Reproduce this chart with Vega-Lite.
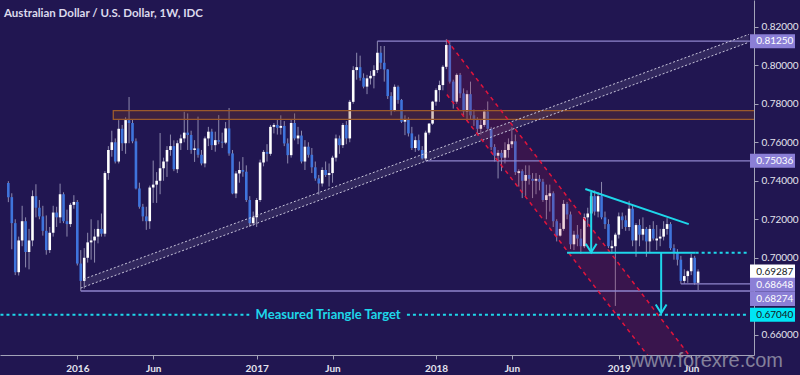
{
  "$schema": "https://vega.github.io/schema/vega-lite/v6.json",
  "width": 754,
  "height": 355,
  "autosize": {"type": "none"},
  "padding": {"left": 0, "top": 0, "right": 46, "bottom": 20},
  "background": "#211651",
  "title": {"text": "Australian Dollar / U.S. Dollar, 1W, IDC", "anchor": "start", "frame": "group", "orient": "top", "offset": -19, "dx": 4, "font": "Lato", "fontSize": 11.5, "fontWeight": "bold", "color": "#dcdaec"},
  "datasets": {
    "candles": [
      {"d":"2015-08-17","o":0.7388,"h":0.7398,"l":0.7289,"c":0.7315},
      {"d":"2015-08-24","o":0.7315,"h":0.7335,"l":0.7044,"c":0.7180},
      {"d":"2015-08-31","o":0.7180,"h":0.7200,"l":0.6910,"c":0.6925},
      {"d":"2015-09-07","o":0.6925,"h":0.7110,"l":0.6908,"c":0.7090},
      {"d":"2015-09-14","o":0.7090,"h":0.7270,"l":0.7060,"c":0.7190},
      {"d":"2015-09-21","o":0.7190,"h":0.7210,"l":0.6950,"c":0.7030},
      {"d":"2015-09-28","o":0.7030,"h":0.7150,"l":0.6940,"c":0.7090},
      {"d":"2015-10-05","o":0.7090,"h":0.7350,"l":0.7060,"c":0.7320},
      {"d":"2015-10-12","o":0.7320,"h":0.7382,"l":0.7210,"c":0.7260},
      {"d":"2015-10-19","o":0.7260,"h":0.7300,"l":0.7200,"c":0.7215},
      {"d":"2015-10-26","o":0.7215,"h":0.7270,"l":0.7115,"c":0.7140},
      {"d":"2015-11-02","o":0.7140,"h":0.7220,"l":0.7016,"c":0.7040},
      {"d":"2015-11-09","o":0.7040,"h":0.7160,"l":0.7025,"c":0.7130},
      {"d":"2015-11-16","o":0.7130,"h":0.7270,"l":0.7110,"c":0.7235},
      {"d":"2015-11-23","o":0.7235,"h":0.7265,"l":0.7160,"c":0.7210},
      {"d":"2015-11-30","o":0.7210,"h":0.7385,"l":0.7180,"c":0.7330},
      {"d":"2015-12-07","o":0.7330,"h":0.7340,"l":0.7180,"c":0.7190},
      {"d":"2015-12-14","o":0.7190,"h":0.7250,"l":0.7110,"c":0.7175},
      {"d":"2015-12-21","o":0.7175,"h":0.7285,"l":0.7160,"c":0.7275},
      {"d":"2015-12-28","o":0.7275,"h":0.7325,"l":0.7255,"c":0.7290},
      {"d":"2016-01-04","o":0.7290,"h":0.7300,"l":0.6960,"c":0.6970},
      {"d":"2016-01-11","o":0.6970,"h":0.7040,"l":0.6827,"c":0.6880},
      {"d":"2016-01-18","o":0.6880,"h":0.7050,"l":0.6840,"c":0.7000},
      {"d":"2016-01-25","o":0.7000,"h":0.7130,"l":0.6975,"c":0.7080},
      {"d":"2016-02-01","o":0.7080,"h":0.7200,"l":0.6990,"c":0.7090},
      {"d":"2016-02-08","o":0.7090,"h":0.7150,"l":0.6975,"c":0.7110},
      {"d":"2016-02-15","o":0.7110,"h":0.7195,"l":0.7075,"c":0.7150},
      {"d":"2016-02-22","o":0.7150,"h":0.7230,"l":0.7110,"c":0.7125},
      {"d":"2016-02-29","o":0.7125,"h":0.7450,"l":0.7110,"c":0.7440},
      {"d":"2016-03-07","o":0.7440,"h":0.7580,"l":0.7405,"c":0.7560},
      {"d":"2016-03-14","o":0.7560,"h":0.7660,"l":0.7525,"c":0.7600},
      {"d":"2016-03-21","o":0.7600,"h":0.7620,"l":0.7490,"c":0.7500},
      {"d":"2016-03-28","o":0.7500,"h":0.7715,"l":0.7490,"c":0.7670},
      {"d":"2016-04-04","o":0.7670,"h":0.7690,"l":0.7555,"c":0.7595},
      {"d":"2016-04-11","o":0.7595,"h":0.7730,"l":0.7540,"c":0.7715},
      {"d":"2016-04-18","o":0.7715,"h":0.7835,"l":0.7595,"c":0.7700},
      {"d":"2016-04-25","o":0.7700,"h":0.7720,"l":0.7595,"c":0.7605},
      {"d":"2016-05-02","o":0.7605,"h":0.7620,"l":0.7355,"c":0.7360},
      {"d":"2016-05-09","o":0.7360,"h":0.7390,"l":0.7255,"c":0.7265},
      {"d":"2016-05-16","o":0.7265,"h":0.7280,"l":0.7190,"c":0.7215},
      {"d":"2016-05-23","o":0.7215,"h":0.7265,"l":0.7145,"c":0.7190},
      {"d":"2016-05-30","o":0.7190,"h":0.7375,"l":0.7150,"c":0.7365},
      {"d":"2016-06-06","o":0.7365,"h":0.7505,"l":0.7285,"c":0.7380},
      {"d":"2016-06-13","o":0.7380,"h":0.7445,"l":0.7285,"c":0.7400},
      {"d":"2016-06-20","o":0.7400,"h":0.7648,"l":0.7330,"c":0.7465},
      {"d":"2016-06-27","o":0.7465,"h":0.7520,"l":0.7400,"c":0.7500},
      {"d":"2016-07-04","o":0.7500,"h":0.7580,"l":0.7420,"c":0.7560},
      {"d":"2016-07-11","o":0.7560,"h":0.7640,"l":0.7530,"c":0.7580},
      {"d":"2016-07-18","o":0.7580,"h":0.7610,"l":0.7450,"c":0.7460},
      {"d":"2016-07-25","o":0.7460,"h":0.7610,"l":0.7440,"c":0.7595},
      {"d":"2016-08-01","o":0.7595,"h":0.7640,"l":0.7560,"c":0.7620},
      {"d":"2016-08-08","o":0.7620,"h":0.7758,"l":0.7600,"c":0.7650},
      {"d":"2016-08-15","o":0.7650,"h":0.7750,"l":0.7560,"c":0.7638},
      {"d":"2016-08-22","o":0.7638,"h":0.7660,"l":0.7540,"c":0.7560},
      {"d":"2016-08-29","o":0.7560,"h":0.7611,"l":0.7498,"c":0.7568},
      {"d":"2016-09-05","o":0.7568,"h":0.7733,"l":0.7520,"c":0.7535},
      {"d":"2016-09-12","o":0.7535,"h":0.7560,"l":0.7480,"c":0.7490},
      {"d":"2016-09-19","o":0.7490,"h":0.7630,"l":0.7470,"c":0.7620},
      {"d":"2016-09-26","o":0.7620,"h":0.7680,"l":0.7580,"c":0.7655},
      {"d":"2016-10-03","o":0.7655,"h":0.7670,"l":0.7560,"c":0.7585},
      {"d":"2016-10-10","o":0.7585,"h":0.7655,"l":0.7551,"c":0.7611},
      {"d":"2016-10-17","o":0.7611,"h":0.7741,"l":0.7590,"c":0.7603},
      {"d":"2016-10-24","o":0.7603,"h":0.7650,"l":0.7570,"c":0.7598},
      {"d":"2016-10-31","o":0.7598,"h":0.7705,"l":0.7590,"c":0.7672},
      {"d":"2016-11-07","o":0.7672,"h":0.7778,"l":0.7530,"c":0.7542},
      {"d":"2016-11-14","o":0.7542,"h":0.7560,"l":0.7330,"c":0.7334},
      {"d":"2016-11-21","o":0.7334,"h":0.7450,"l":0.7310,"c":0.7438},
      {"d":"2016-11-28","o":0.7438,"h":0.7500,"l":0.7390,"c":0.7456},
      {"d":"2016-12-05","o":0.7456,"h":0.7523,"l":0.7421,"c":0.7447},
      {"d":"2016-12-12","o":0.7447,"h":0.7480,"l":0.7290,"c":0.7300},
      {"d":"2016-12-19","o":0.7300,"h":0.7320,"l":0.7160,"c":0.7180},
      {"d":"2016-12-26","o":0.7180,"h":0.7240,"l":0.7165,"c":0.7210},
      {"d":"2017-01-02","o":0.7210,"h":0.7310,"l":0.7160,"c":0.7300},
      {"d":"2017-01-09","o":0.7300,"h":0.7510,"l":0.7290,"c":0.7495},
      {"d":"2017-01-16","o":0.7495,"h":0.7560,"l":0.7475,"c":0.7550},
      {"d":"2017-01-23","o":0.7550,"h":0.7590,"l":0.7500,"c":0.7540},
      {"d":"2017-01-30","o":0.7540,"h":0.7690,"l":0.7530,"c":0.7680},
      {"d":"2017-02-06","o":0.7680,"h":0.7700,"l":0.7646,"c":0.7690},
      {"d":"2017-02-13","o":0.7690,"h":0.7720,"l":0.7640,"c":0.7675},
      {"d":"2017-02-20","o":0.7675,"h":0.7740,"l":0.7640,"c":0.7685},
      {"d":"2017-02-27","o":0.7685,"h":0.7710,"l":0.7580,"c":0.7594},
      {"d":"2017-03-06","o":0.7594,"h":0.7620,"l":0.7490,"c":0.7533},
      {"d":"2017-03-13","o":0.7533,"h":0.7720,"l":0.7520,"c":0.7700},
      {"d":"2017-03-20","o":0.7700,"h":0.7750,"l":0.7610,"c":0.7620},
      {"d":"2017-03-27","o":0.7620,"h":0.7680,"l":0.7590,"c":0.7635},
      {"d":"2017-04-03","o":0.7635,"h":0.7660,"l":0.7490,"c":0.7500},
      {"d":"2017-04-10","o":0.7500,"h":0.7611,"l":0.7456,"c":0.7577},
      {"d":"2017-04-17","o":0.7577,"h":0.7600,"l":0.7520,"c":0.7535},
      {"d":"2017-04-24","o":0.7535,"h":0.7570,"l":0.7440,"c":0.7470},
      {"d":"2017-05-01","o":0.7470,"h":0.7500,"l":0.7400,"c":0.7412},
      {"d":"2017-05-08","o":0.7412,"h":0.7430,"l":0.7328,"c":0.7386},
      {"d":"2017-05-15","o":0.7386,"h":0.7470,"l":0.7370,"c":0.7456},
      {"d":"2017-05-22","o":0.7456,"h":0.7500,"l":0.7420,"c":0.7430},
      {"d":"2017-05-29","o":0.7430,"h":0.7490,"l":0.7370,"c":0.7440},
      {"d":"2017-06-05","o":0.7440,"h":0.7530,"l":0.7390,"c":0.7520},
      {"d":"2017-06-12","o":0.7520,"h":0.7640,"l":0.7500,"c":0.7620},
      {"d":"2017-06-19","o":0.7620,"h":0.7635,"l":0.7540,"c":0.7585},
      {"d":"2017-06-26","o":0.7585,"h":0.7700,"l":0.7570,"c":0.7690},
      {"d":"2017-07-03","o":0.7690,"h":0.7710,"l":0.7590,"c":0.7620},
      {"d":"2017-07-10","o":0.7620,"h":0.7820,"l":0.7600,"c":0.7810},
      {"d":"2017-07-17","o":0.7810,"h":0.7995,"l":0.7800,"c":0.7975},
      {"d":"2017-07-24","o":0.7975,"h":0.8065,"l":0.7925,"c":0.7990},
      {"d":"2017-07-31","o":0.7990,"h":0.8050,"l":0.7920,"c":0.7935},
      {"d":"2017-08-07","o":0.7935,"h":0.7958,"l":0.7880,"c":0.7889},
      {"d":"2017-08-14","o":0.7889,"h":0.7950,"l":0.7850,"c":0.7932},
      {"d":"2017-08-21","o":0.7932,"h":0.7970,"l":0.7900,"c":0.7945},
      {"d":"2017-08-28","o":0.7945,"h":0.8000,"l":0.7880,"c":0.7975},
      {"d":"2017-09-04","o":0.7975,"h":0.8125,"l":0.7960,"c":0.8065},
      {"d":"2017-09-11","o":0.8065,"h":0.8100,"l":0.7980,"c":0.8013},
      {"d":"2017-09-18","o":0.8013,"h":0.8100,"l":0.7915,"c":0.7978},
      {"d":"2017-09-25","o":0.7978,"h":0.7980,"l":0.7825,"c":0.7840},
      {"d":"2017-10-02","o":0.7840,"h":0.7860,"l":0.7740,"c":0.7767},
      {"d":"2017-10-09","o":0.7767,"h":0.7900,"l":0.7760,"c":0.7888},
      {"d":"2017-10-16","o":0.7888,"h":0.7895,"l":0.7800,"c":0.7820},
      {"d":"2017-10-23","o":0.7820,"h":0.7825,"l":0.7700,"c":0.7707},
      {"d":"2017-10-30","o":0.7707,"h":0.7740,"l":0.7637,"c":0.7720},
      {"d":"2017-11-06","o":0.7720,"h":0.7730,"l":0.7630,"c":0.7646},
      {"d":"2017-11-13","o":0.7646,"h":0.7680,"l":0.7560,"c":0.7570},
      {"d":"2017-11-20","o":0.7570,"h":0.7630,"l":0.7550,"c":0.7611},
      {"d":"2017-11-27","o":0.7611,"h":0.7640,"l":0.7555,"c":0.7560},
      {"d":"2017-12-04","o":0.7560,"h":0.7580,"l":0.7510,"c":0.7516},
      {"d":"2017-12-11","o":0.7516,"h":0.7660,"l":0.7504,"c":0.7650},
      {"d":"2017-12-18","o":0.7650,"h":0.7700,"l":0.7640,"c":0.7697},
      {"d":"2017-12-25","o":0.7697,"h":0.7815,"l":0.7690,"c":0.7811},
      {"d":"2018-01-01","o":0.7811,"h":0.7880,"l":0.7790,"c":0.7871},
      {"d":"2018-01-08","o":0.7871,"h":0.7920,"l":0.7810,"c":0.7897},
      {"d":"2018-01-15","o":0.7897,"h":0.8000,"l":0.7870,"c":0.7992},
      {"d":"2018-01-22","o":0.7992,"h":0.8135,"l":0.7980,"c":0.8105},
      {"d":"2018-01-29","o":0.8105,"h":0.8120,"l":0.7905,"c":0.7915},
      {"d":"2018-02-05","o":0.7915,"h":0.7925,"l":0.7775,"c":0.7811},
      {"d":"2018-02-12","o":0.7811,"h":0.7958,"l":0.7800,"c":0.7950},
      {"d":"2018-02-19","o":0.7950,"h":0.7960,"l":0.7830,"c":0.7854},
      {"d":"2018-02-26","o":0.7854,"h":0.7880,"l":0.7740,"c":0.7760},
      {"d":"2018-03-05","o":0.7760,"h":0.7870,"l":0.7710,"c":0.7850},
      {"d":"2018-03-12","o":0.7850,"h":0.7915,"l":0.7720,"c":0.7740},
      {"d":"2018-03-19","o":0.7740,"h":0.7770,"l":0.7685,"c":0.7715},
      {"d":"2018-03-26","o":0.7715,"h":0.7730,"l":0.7640,"c":0.7670},
      {"d":"2018-04-02","o":0.7670,"h":0.7720,"l":0.7640,"c":0.7690},
      {"d":"2018-04-09","o":0.7690,"h":0.7770,"l":0.7680,"c":0.7760},
      {"d":"2018-04-16","o":0.7760,"h":0.7812,"l":0.7660,"c":0.7670},
      {"d":"2018-04-23","o":0.7670,"h":0.7680,"l":0.7560,"c":0.7575},
      {"d":"2018-04-30","o":0.7575,"h":0.7590,"l":0.7500,"c":0.7530},
      {"d":"2018-05-07","o":0.7530,"h":0.7560,"l":0.7412,"c":0.7545},
      {"d":"2018-05-14","o":0.7545,"h":0.7560,"l":0.7450,"c":0.7520},
      {"d":"2018-05-21","o":0.7520,"h":0.7600,"l":0.7490,"c":0.7560},
      {"d":"2018-05-28","o":0.7560,"h":0.7620,"l":0.7520,"c":0.7590},
      {"d":"2018-06-04","o":0.7590,"h":0.7677,"l":0.7570,"c":0.7605},
      {"d":"2018-06-11","o":0.7605,"h":0.7640,"l":0.7430,"c":0.7445},
      {"d":"2018-06-18","o":0.7440,"h":0.7460,"l":0.7370,"c":0.7450},
      {"d":"2018-06-25","o":0.7450,"h":0.7460,"l":0.7310,"c":0.7400},
      {"d":"2018-07-02","o":0.7400,"h":0.7480,"l":0.7320,"c":0.7430},
      {"d":"2018-07-09","o":0.7430,"h":0.7480,"l":0.7380,"c":0.7410},
      {"d":"2018-07-16","o":0.7410,"h":0.7440,"l":0.7310,"c":0.7400},
      {"d":"2018-07-23","o":0.7400,"h":0.7440,"l":0.7330,"c":0.7410},
      {"d":"2018-07-30","o":0.7410,"h":0.7430,"l":0.7350,"c":0.7395},
      {"d":"2018-08-06","o":0.7395,"h":0.7410,"l":0.7290,"c":0.7300},
      {"d":"2018-08-13","o":0.7300,"h":0.7380,"l":0.7200,"c":0.7325},
      {"d":"2018-08-20","o":0.7320,"h":0.7380,"l":0.7240,"c":0.7335},
      {"d":"2018-08-27","o":0.7335,"h":0.7345,"l":0.7160,"c":0.7190},
      {"d":"2018-09-03","o":0.7190,"h":0.7200,"l":0.7085,"c":0.7115},
      {"d":"2018-09-10","o":0.7115,"h":0.7180,"l":0.7110,"c":0.7150},
      {"d":"2018-09-17","o":0.7150,"h":0.7300,"l":0.7140,"c":0.7280},
      {"d":"2018-09-24","o":0.7280,"h":0.7290,"l":0.7200,"c":0.7225},
      {"d":"2018-10-01","o":0.7225,"h":0.7240,"l":0.7045,"c":0.7070},
      {"d":"2018-10-08","o":0.7070,"h":0.7140,"l":0.7040,"c":0.7120},
      {"d":"2018-10-15","o":0.7120,"h":0.7170,"l":0.7060,"c":0.7100},
      {"d":"2018-10-22","o":0.7100,"h":0.7150,"l":0.7020,"c":0.7060},
      {"d":"2018-10-29","o":0.7060,"h":0.7230,"l":0.7050,"c":0.7210},
      {"d":"2018-11-05","o":0.7210,"h":0.7260,"l":0.7160,"c":0.7230},
      {"d":"2018-11-12","o":0.7230,"h":0.7340,"l":0.7160,"c":0.7320},
      {"d":"2018-11-19","o":0.7320,"h":0.7350,"l":0.7220,"c":0.7240},
      {"d":"2018-11-26","o":0.7240,"h":0.7340,"l":0.7210,"c":0.7320},
      {"d":"2018-12-03","o":0.7320,"h":0.7394,"l":0.7200,"c":0.7210},
      {"d":"2018-12-10","o":0.7210,"h":0.7240,"l":0.7150,"c":0.7175},
      {"d":"2018-12-17","o":0.7175,"h":0.7200,"l":0.7050,"c":0.7060},
      {"d":"2018-12-24","o":0.7050,"h":0.7090,"l":0.7020,"c":0.7060},
      {"d":"2018-12-31","o":0.7060,"h":0.7130,"l":0.6750,"c":0.7120},
      {"d":"2019-01-07","o":0.7120,"h":0.7235,"l":0.7100,"c":0.7215},
      {"d":"2019-01-14","o":0.7215,"h":0.7235,"l":0.7150,"c":0.7195},
      {"d":"2019-01-21","o":0.7195,"h":0.7220,"l":0.7140,"c":0.7160},
      {"d":"2019-01-28","o":0.7160,"h":0.7296,"l":0.7140,"c":0.7255},
      {"d":"2019-02-04","o":0.7255,"h":0.7270,"l":0.7060,"c":0.7090},
      {"d":"2019-02-11","o":0.7090,"h":0.7180,"l":0.7005,"c":0.7170},
      {"d":"2019-02-18","o":0.7170,"h":0.7200,"l":0.7060,"c":0.7120},
      {"d":"2019-02-25","o":0.7120,"h":0.7210,"l":0.7090,"c":0.7150},
      {"d":"2019-03-04","o":0.7150,"h":0.7160,"l":0.7005,"c":0.7085},
      {"d":"2019-03-11","o":0.7085,"h":0.7170,"l":0.7030,"c":0.7150},
      {"d":"2019-03-18","o":0.7150,"h":0.7190,"l":0.7090,"c":0.7100},
      {"d":"2019-03-25","o":0.7090,"h":0.7170,"l":0.7040,"c":0.7100},
      {"d":"2019-04-01","o":0.7100,"h":0.7150,"l":0.7060,"c":0.7110},
      {"d":"2019-04-08","o":0.7110,"h":0.7190,"l":0.7090,"c":0.7150},
      {"d":"2019-04-15","o":0.7150,"h":0.7206,"l":0.7120,"c":0.7175},
      {"d":"2019-04-22","o":0.7175,"h":0.7185,"l":0.7040,"c":0.7050},
      {"d":"2019-04-29","o":0.7050,"h":0.7070,"l":0.6990,"c":0.7030},
      {"d":"2019-05-06","o":0.7030,"h":0.7045,"l":0.6960,"c":0.6990},
      {"d":"2019-05-13","o":0.6990,"h":0.7010,"l":0.6865,"c":0.6880},
      {"d":"2019-05-20","o":0.6880,"h":0.6940,"l":0.6865,"c":0.6905},
      {"d":"2019-05-27","o":0.6905,"h":0.6935,"l":0.6870,"c":0.6930},
      {"d":"2019-06-03","o":0.6930,"h":0.7020,"l":0.6910,"c":0.7000},
      {"d":"2019-06-10","o":0.7000,"h":0.7010,"l":0.6860,"c":0.6870},
      {"d":"2019-06-17","o":0.6870,"h":0.6940,"l":0.6832,"c":0.69287}
    ],
    "rise_fill": [
      {"d":"2016-01-17","lo":0.68483,"hi":0.68894},
      {"d":"2019-09-28","lo":0.81195,"hi":0.81605}
    ],
    "red_fill": [
      {"d":"2018-01-23","lo":0.7848,"hi":0.8131},
      {"d":"2019-06-12","lo":0.6169,"hi":0.6450}
    ],
    "band": [
      {"d":"2016-03-17","d2":"2019-12-31","lo":0.7719,"hi":0.7764}
    ],
    "levels": [
      {"d":"2017-09-04","d2":"2019-12-31","p":0.8125},
      {"d":"2017-12-11","d2":"2019-12-31","p":0.75036},
      {"d":"2016-01-11","d2":"2019-12-31","p":0.68274},
      {"d":"2019-05-13","d2":"2019-12-31","p":0.68648}
    ],
    "rise_lines": [
      {"g":"lower","d":"2016-01-11","p":0.68426},
      {"g":"lower","d":"2019-09-28","p":0.81195},
      {"g":"upper","d":"2016-01-17","p":0.68894},
      {"g":"upper","d":"2019-09-28","p":0.81605}
    ],
    "red_lines": [
      {"g":"upper","d":"2018-01-23","p":0.8131},
      {"g":"upper","d":"2019-06-12","p":0.6450},
      {"g":"lower","d":"2018-01-23","p":0.7848},
      {"g":"lower","d":"2019-06-12","p":0.6169}
    ],
    "cyan_lines": [
      {"g":"top","d":"2018-10-31","p":0.7357},
      {"g":"top","d":"2019-05-29","p":0.7175},
      {"g":"base","d":"2018-09-24","p":0.7026},
      {"g":"base","d":"2019-06-12","p":0.7026},
      {"g":"a1","d":"2018-11-12","p":0.7341},
      {"g":"a1","d":"2018-11-12","p":0.7028},
      {"g":"h1","d":"2018-11-01","p":0.7073},
      {"g":"h1","d":"2018-11-12","p":0.7028},
      {"g":"h1","d":"2018-11-23","p":0.7073},
      {"g":"a2","d":"2019-04-03","p":0.7026},
      {"g":"a2","d":"2019-04-03","p":0.6712},
      {"g":"h2","d":"2019-03-23","p":0.6757},
      {"g":"h2","d":"2019-04-03","p":0.6712},
      {"g":"h2","d":"2019-04-14","p":0.6757}
    ],
    "cyan_dots": [
      {"d":"2019-06-12","d2":"2019-09-28","p":0.7026},
      {"d":"2015-08-01","d2":"2016-12-18","p":0.6704},
      {"d":"2017-11-03","d2":"2019-09-28","p":0.6704}
    ],
    "target_text": [
      {"d":"2017-05-27","p":0.6704,"t":"Measured Triangle Target"}
    ],
    "watermark": [
      {"t":"www.forexre.com"}
    ],
    "price_labels": [
      {"p":0.8125,"t":"0.81250","k":"purple"},
      {"p":0.75036,"t":"0.75036","k":"purple"},
      {"p":0.69287,"t":"0.69287","k":"white"},
      {"p":0.68648,"t":"0.68648","k":"purple"},
      {"p":0.68274,"t":"0.68274","k":"purple"},
      {"p":0.6704,"t":"0.67040","k":"cyan"}
    ]
  },
  "layer": [
    {
      "data": {"name": "candles"},
      "mark": {"type": "rule", "color": "#8e8aae", "strokeWidth": 1},
      "encoding": {
        "x": {"field": "d", "type": "temporal", "title": null,
          "scale": {"type": "utc", "nice": false, "domain": [{"year":2015,"month":8,"date":10,"hours":5,"utc":true},{"year":2019,"month":9,"date":28,"hours":7,"utc":true}]},
          "axis": {"values": [{"year":2016,"month":1,"date":4,"utc":true},{"year":2016,"month":6,"date":6,"utc":true},{"year":2017,"month":1,"date":2,"utc":true},{"year":2017,"month":6,"date":5,"utc":true},{"year":2018,"month":1,"date":1,"utc":true},{"year":2018,"month":6,"date":4,"utc":true},{"year":2019,"month":1,"date":7,"utc":true},{"year":2019,"month":6,"date":3,"utc":true}],
            "labelExpr": "utcFormat(datum.value, '%m') == '01' ? utcFormat(datum.value, '%Y') : 'Jun'",
            "orient": "bottom", "domainColor": "#a3a3b8", "tickColor": "#a3a3b8", "tickSize": 4, "labelPadding": 4,
            "labelFont": "Lato", "labelFontSize": 10, "labelFontWeight": "bold", "labelColor": "#e4e4ee",
            "grid": false, "labelFlush": false, "labelOverlap": false}},
        "y": {"field": "l", "type": "quantitative", "title": null,
          "scale": {"domain": [0.6495, 0.8339], "zero": false, "nice": false},
          "axis": {"orient": "right", "values": [0.66, 0.70, 0.72, 0.74, 0.76, 0.78, 0.80, 0.82], "format": ".5f",
            "domainColor": "#a3a3b8", "tickColor": "#a3a3b8", "tickSize": 4, "labelPadding": 3,
            "labelFont": "Lato", "labelFontSize": 10, "labelColor": "#e4e4ee",
            "grid": false, "labelFlush": false, "labelOverlap": false}},
        "y2": {"field": "h"}
      }
    },
    {
      "data": {"name": "candles"},
      "mark": {"type": "bar", "width": 2.6},
      "encoding": {
        "x": {"field": "d", "type": "temporal", "title": null, "scale": {"type": "utc"}},
        "y": {"field": "o", "type": "quantitative", "title": null},
        "y2": {"field": "c"},
        "color": {"condition": {"test": "datum.c >= datum.o", "value": "#ffffff"}, "value": "#3f74dc"}
      }
    },
    {
      "data": {"name": "rise_fill"},
      "mark": {"type": "area", "color": "#ffffff", "opacity": 0.08, "clip": true},
      "encoding": {
        "x": {"field": "d", "type": "temporal", "title": null, "scale": {"type": "utc"}},
        "y": {"field": "lo", "type": "quantitative", "title": null},
        "y2": {"field": "hi"}
      }
    },
    {
      "data": {"name": "red_fill"},
      "mark": {"type": "area", "color": "#a8123c", "opacity": 0.18, "clip": true},
      "encoding": {
        "x": {"field": "d", "type": "temporal", "title": null, "scale": {"type": "utc"}},
        "y": {"field": "lo", "type": "quantitative", "title": null},
        "y2": {"field": "hi"}
      }
    },
    {
      "data": {"name": "band"},
      "mark": {"type": "rect", "fill": "#7a3a22", "fillOpacity": 0.3, "stroke": "#9c5a2c", "strokeWidth": 1.3, "clip": true},
      "encoding": {
        "x": {"field": "d", "type": "temporal", "title": null, "scale": {"type": "utc"}},
        "x2": {"field": "d2"},
        "y": {"field": "lo", "type": "quantitative", "title": null},
        "y2": {"field": "hi"}
      }
    },
    {
      "data": {"name": "levels"},
      "mark": {"type": "rule", "color": "#8f85cc", "strokeWidth": 1.3, "clip": true},
      "encoding": {
        "x": {"field": "d", "type": "temporal", "title": null, "scale": {"type": "utc"}},
        "x2": {"field": "d2"},
        "y": {"field": "p", "type": "quantitative", "title": null}
      }
    },
    {
      "data": {"name": "rise_lines"},
      "mark": {"type": "line", "color": "#c9c6dc", "strokeWidth": 1, "strokeDash": [2, 2], "clip": true},
      "encoding": {
        "x": {"field": "d", "type": "temporal", "title": null, "scale": {"type": "utc"}},
        "y": {"field": "p", "type": "quantitative", "title": null},
        "detail": {"field": "g"}
      }
    },
    {
      "data": {"name": "red_lines"},
      "mark": {"type": "line", "color": "#e0143c", "strokeWidth": 1.5, "strokeDash": [4, 4], "clip": true},
      "encoding": {
        "x": {"field": "d", "type": "temporal", "title": null, "scale": {"type": "utc"}},
        "y": {"field": "p", "type": "quantitative", "title": null},
        "detail": {"field": "g"}
      }
    },
    {
      "data": {"name": "cyan_lines"},
      "mark": {"type": "line", "color": "#1ed7ea", "strokeWidth": 2},
      "encoding": {
        "x": {"field": "d", "type": "temporal", "title": null, "scale": {"type": "utc"}},
        "y": {"field": "p", "type": "quantitative", "title": null},
        "detail": {"field": "g"}
      }
    },
    {
      "data": {"name": "cyan_dots"},
      "mark": {"type": "rule", "color": "#1ed7ea", "strokeWidth": 2, "strokeDash": [3, 3], "clip": true},
      "encoding": {
        "x": {"field": "d", "type": "temporal", "title": null, "scale": {"type": "utc"}},
        "x2": {"field": "d2"},
        "y": {"field": "p", "type": "quantitative", "title": null}
      }
    },
    {
      "data": {"name": "target_text"},
      "mark": {"type": "text", "color": "#1ed7ea", "font": "Lato", "fontSize": 13, "fontWeight": "bold", "align": "center", "baseline": "middle"},
      "encoding": {
        "x": {"field": "d", "type": "temporal", "title": null, "scale": {"type": "utc"}},
        "y": {"field": "p", "type": "quantitative", "title": null},
        "text": {"field": "t"}
      }
    },
    {
      "data": {"name": "watermark"},
      "mark": {"type": "text", "color": "#a4a4b4", "opacity": 0.75, "font": "Liberation Sans", "fontSize": 20, "align": "left", "baseline": "alphabetic"},
      "encoding": {
        "x": {"datum": {"year":2019,"month":1,"date":29,"utc":true}, "type": "temporal", "title": null, "scale": {"type": "utc"}},
        "y": {"datum": 0.6432, "type": "quantitative", "title": null},
        "text": {"field": "t"}
      }
    },
    {
      "data": {"name": "price_labels"},
      "transform": [{"filter": "datum.p != 0.68274 && datum.p != 0.68648"}],
      "mark": {"type": "tick", "orient": "horizontal", "size": 45, "thickness": 14, "opacity": 1},
      "encoding": {
        "x": {"datum": {"year":2019,"month":11,"date":15,"utc":true}, "type": "temporal", "title": null, "scale": {"type": "utc"}},
        "y": {"field": "p", "type": "quantitative", "title": null},
        "color": {"condition": [{"test": "datum.k == 'white'", "value": "#ffffff"}, {"test": "datum.k == 'cyan'", "value": "#00e5f5"}], "value": "#8b7fd6"}
      }
    },
    {
      "data": {"name": "price_labels"},
      "transform": [{"filter": "datum.p != 0.68274 && datum.p != 0.68648"}],
      "mark": {"type": "text", "font": "Lato", "fontSize": 10, "align": "left", "baseline": "middle"},
      "encoding": {
        "x": {"datum": {"year":2019,"month":10,"date":13,"utc":true}, "type": "temporal", "title": null, "scale": {"type": "utc"}},
        "y": {"field": "p", "type": "quantitative", "title": null},
        "text": {"field": "t"},
        "color": {"condition": {"test": "datum.k == 'purple'", "value": "#ffffff"}, "value": "#131722"}
      }
    },
    {
      "data": {"name": "price_labels"},
      "transform": [{"filter": "datum.p == 0.68648"}],
      "mark": {"type": "tick", "orient": "horizontal", "size": 45, "thickness": 14, "opacity": 1, "color": "#8b7fd6", "yOffset": 1},
      "encoding": {
        "x": {"datum": {"year":2019,"month":11,"date":15,"utc":true}, "type": "temporal", "title": null, "scale": {"type": "utc"}},
        "y": {"field": "p", "type": "quantitative", "title": null}
      }
    },
    {
      "data": {"name": "price_labels"},
      "transform": [{"filter": "datum.p == 0.68274"}],
      "mark": {"type": "tick", "orient": "horizontal", "size": 45, "thickness": 14, "opacity": 1, "color": "#8b7fd6", "yOffset": 8},
      "encoding": {
        "x": {"datum": {"year":2019,"month":11,"date":15,"utc":true}, "type": "temporal", "title": null, "scale": {"type": "utc"}},
        "y": {"field": "p", "type": "quantitative", "title": null}
      }
    },
    {
      "data": {"name": "price_labels"},
      "transform": [{"filter": "datum.p == 0.68648"}],
      "mark": {"type": "text", "font": "Lato", "fontSize": 10, "align": "left", "baseline": "middle", "color": "#ffffff", "yOffset": 1},
      "encoding": {
        "x": {"datum": {"year":2019,"month":10,"date":13,"utc":true}, "type": "temporal", "title": null, "scale": {"type": "utc"}},
        "y": {"field": "p", "type": "quantitative", "title": null},
        "text": {"field": "t"}
      }
    },
    {
      "data": {"name": "price_labels"},
      "transform": [{"filter": "datum.p == 0.68274"}],
      "mark": {"type": "text", "font": "Lato", "fontSize": 10, "align": "left", "baseline": "middle", "color": "#ffffff", "yOffset": 8},
      "encoding": {
        "x": {"datum": {"year":2019,"month":10,"date":13,"utc":true}, "type": "temporal", "title": null, "scale": {"type": "utc"}},
        "y": {"field": "p", "type": "quantitative", "title": null},
        "text": {"field": "t"}
      }
    }
  ],
  "config": {"view": {"stroke": null}, "axis": {"grid": false}}
}
